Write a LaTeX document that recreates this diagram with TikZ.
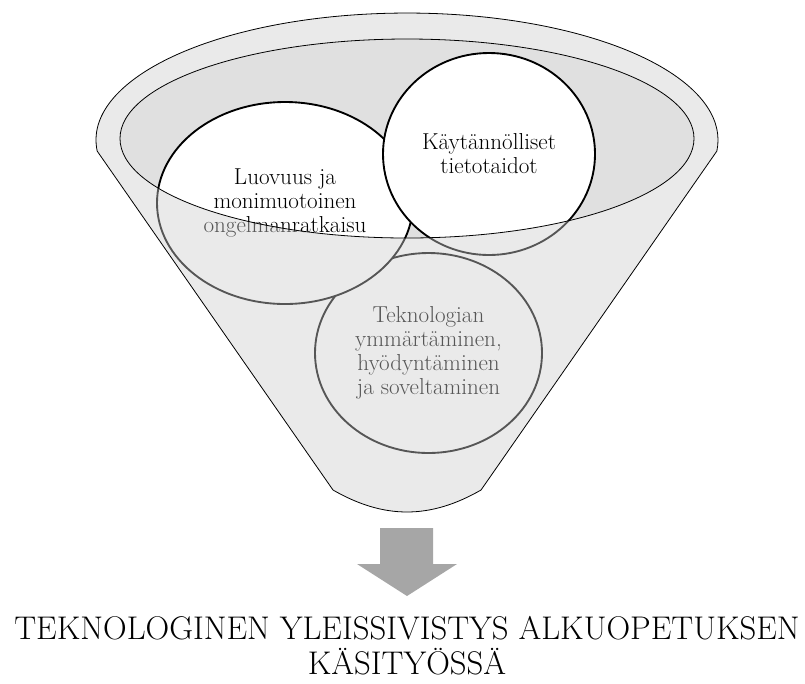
\documentclass[tikz,border=0pt]{standalone}
\usepackage{tikz}
\usetikzlibrary{shapes.geometric}
\definecolor{rimgrey}{HTML}{CECECE}
\definecolor{mouthgrey}{HTML}{E0E0E0}
\definecolor{arrowgrey}{HTML}{A6A6A6}

\begin{document}
\begin{tikzpicture}[x=0.75pt, y=-0.75pt,
    bubble/.style={ellipse, draw, fill=white, line width=1.4pt, inner sep=0pt,
      align=center, font=\fontsize{17.3}{18}\selectfont},
    front/.style={fill=rimgrey, fill opacity=.42, draw=black, line width=.6pt, even odd rule}]
\useasboundingbox (0,0) rectangle (805,683);

\fill[mouthgrey] (407,138.5) ellipse [x radius=287, y radius=99.5];

\node[bubble, minimum width=170.25pt, minimum height=150pt] (tekno) at (428.5,353)
  {Teknologian\\ymmärtäminen,\\hyödyntäminen\\ja soveltaminen};
\node[bubble, minimum width=192pt, minimum height=151.5pt] (luovuus) at (285,203)
  {Luovuus ja\\monimuotoinen\\ongelmanratkaisu};
\node[bubble, minimum width=159pt, minimum height=151.5pt] (taidot) at (489,154)
  {Käytännölliset\\tietotaidot};

\path[front] (97.2,151.1) arc [start angle=175, end angle=365, x radius=311, y radius=127]
  -- (481,490) .. controls (430,519.3) and (384,519.3) .. (333,490) -- cycle
  (407,138.5) ellipse [x radius=287, y radius=99.5];

\fill[arrowgrey] (380,528) -- (433,528) -- (433,564) -- (457,564) -- (407,596)
  -- (357,564) -- (380,564) -- cycle;

\node[font=\fontsize{24.6}{26}\selectfont, align=center, anchor=north, inner sep=0pt] (tulos)
  at (407,616) {TEKNOLOGINEN YLEISSIVISTYS ALKUOPETUKSEN\\KÄSITYÖSSÄ};
\end{tikzpicture}
\end{document}
